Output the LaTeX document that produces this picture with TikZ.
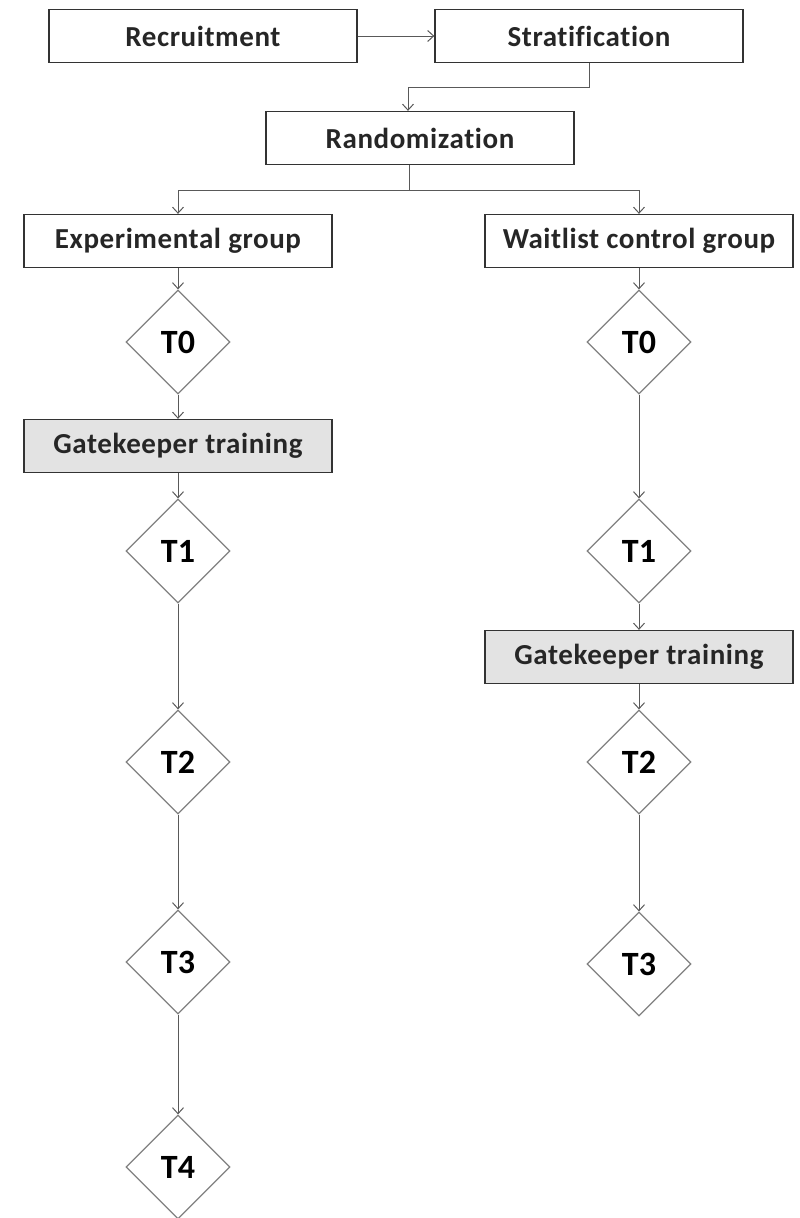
\documentclass[tikz,border=0pt]{standalone}
\usepackage{fontspec}
\setmainfont{Carlito}
\newfontfamily\boxfont[LetterSpace=2,Ligatures=NoCommon]{Carlito}
\usetikzlibrary{positioning,shapes.geometric,arrows.meta}

\begin{document}
\begin{tikzpicture}[x=1pt,y=-1pt,
    box/.style={draw=black!80, line width=1.3pt, minimum width=308pt, minimum height=53pt,
        inner sep=0pt, font=\boxfont\fontsize{29}{34}\selectfont\bfseries, text=black!85},
    trainbox/.style={box, fill=black!11},
    tpoint/.style={diamond, aspect=1, draw=black!50, line width=1.2pt, minimum width=104pt,
        minimum height=104pt, inner sep=0pt, font=\fontsize{34}{40}\selectfont\bfseries},
    conn/.style={draw=black!65, line width=1pt, -{Straight Barb[length=6pt,width=11pt]}}]
    \useasboundingbox (0,0) rectangle (800,1218);
    % Top row
    \node[box] (rec) at (203,36) {Recruitment};
    \node[box] (strat) at (589,36) {Stratification};
    \node[box] (rand) at (420,138) {Randomization};
    % Groups
    \node[box] (exp) at (178,241) {Experimental group};
    \node[box] (wait) at (639,241) {Waitlist control group};
    \node[trainbox] (gkl) at (178,446) {Gatekeeper training};
    \node[trainbox] (gkr) at (639,657) {Gatekeeper training};
    % Measurement points
    \foreach \i/\y in {0/342,1/551,2/762,3/962,4/1167} {
        \node[tpoint] (l\i) at (178,\y) {T\i};
    }
    \foreach \i/\y in {0/342,1/551,2/762,3/964} {
        \node[tpoint] (r\i) at (639,\y) {T\i};
    }
    % Connectors
    \coordinate (sbend) at (408,87);
    \coordinate (split) at (409,190);
    \draw[conn] (rec) -- (strat);
    \draw[conn] (strat.south) |- (sbend) -- (sbend |- rand.north);
    \draw[draw=black!65, line width=1pt] (split |- rand.south) -- (split);
    \draw[conn] (split) -| (exp.north);
    \draw[conn] (split) -| (wait.north);
    \draw[conn] (exp) -- (l0);
    \draw[conn] (l0) -- (gkl);
    \draw[conn] (gkl) -- (l1);
    \draw[conn] (l1) -- (l2);
    \draw[conn] (l2) -- (l3);
    \draw[conn] (l3) -- (l4);
    \draw[conn] (wait) -- (r0);
    \draw[conn] (r0) -- (r1);
    \draw[conn] (r1) -- (gkr);
    \draw[conn] (gkr) -- (r2);
    \draw[conn] (r2) -- (r3);
\end{tikzpicture}
\end{document}
